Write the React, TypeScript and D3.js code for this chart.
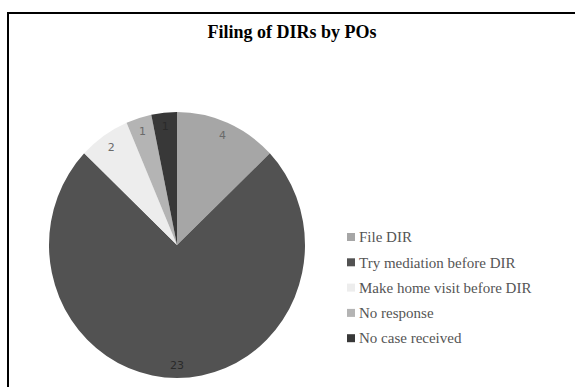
import React, { useEffect, useRef } from 'react';
import * as d3 from 'd3';

const categories = [
  'File DIR',
  'Try mediation before DIR',
  'Make home visit before DIR',
  'No response',
  'No case received',
];
const values = [4, 23, 2, 1, 1];
const colors = ['#a6a6a6', '#525252', '#ededed', '#b4b4b4', '#383838'];

const width = 575;
const height = 387;

export default function App() {
  const ref = useRef<SVGSVGElement>(null);

  useEffect(() => {
    const svg = d3.select(ref.current);
    svg.selectAll('*').remove();

    svg.append('rect').attr('width', width).attr('height', height).attr('fill', '#fff');

    // chart frame (runs off the right and bottom edges)
    svg
      .append('rect')
      .attr('x', 8)
      .attr('y', 13)
      .attr('width', 700)
      .attr('height', 500)
      .attr('fill', '#fff')
      .attr('stroke', '#000')
      .attr('stroke-width', 2);

    svg
      .append('text')
      .attr('x', 292)
      .attr('y', 38)
      .attr('text-anchor', 'middle')
      .attr('font-family', '"Liberation Serif", "DejaVu Serif", serif')
      .attr('font-weight', 'bold')
      .attr('font-size', 18)
      .attr('fill', '#000')
      .text('Filing of DIRs by POs');

    const data = categories.map((label, i) => ({ label, value: values[i], color: colors[i] }));

    const pie = d3
      .pie<{ label: string; value: number; color: string }>()
      .sort(null)
      .value(d => d.value);

    const arc = d3.arc<any>().innerRadius(0).outerRadius(1);
    const labelArc = d3.arc<any>().innerRadius(0.9).outerRadius(0.9);

    const cx = 177;
    const cy = 245;
    const rx = 128;
    const ry = 133;

    const g = svg.append('g').attr('transform', `translate(${cx},${cy})`);

    g.append('g')
      .attr('transform', `scale(${rx},${ry})`)
      .selectAll('path')
      .data(pie(data))
      .enter()
      .append('path')
      .attr('d', arc)
      .attr('fill', d => d.data.color);

    g.selectAll('text.val')
      .data(pie(data))
      .enter()
      .append('text')
      .attr('class', 'val')
      .attr('x', d => labelArc.centroid(d)[0] * rx)
      .attr('y', d => labelArc.centroid(d)[1] * ry)
      .attr('dy', '0.35em')
      .attr('text-anchor', 'middle')
      .attr('font-family', '"DejaVu Sans", sans-serif')
      .attr('font-size', 11)
      .attr('fill', (d, i) => (i === 1 || i === 4 ? '#2a2a2a' : '#6a6a6a'))
      .text(d => d.data.value);

    // legend
    const legend = svg
      .append('g')
      .selectAll('g')
      .data(data)
      .enter()
      .append('g')
      .attr('transform', (d, i) => `translate(347,${237 + i * 25.3})`);

    legend
      .append('rect')
      .attr('x', 0)
      .attr('y', -4)
      .attr('width', 8)
      .attr('height', 8)
      .attr('fill', d => d.color);

    legend
      .append('text')
      .attr('x', 12)
      .attr('dy', '0.35em')
      .attr('font-family', '"Liberation Serif", "DejaVu Serif", serif')
      .attr('font-size', 15)
      .attr('fill', '#555')
      .text(d => d.label);
  }, []);

  return (
    <svg
      ref={ref}
      width={width}
      height={height}
      style={{ position: 'absolute', left: 0, top: 0, display: 'block' }}
    />
  );
}
